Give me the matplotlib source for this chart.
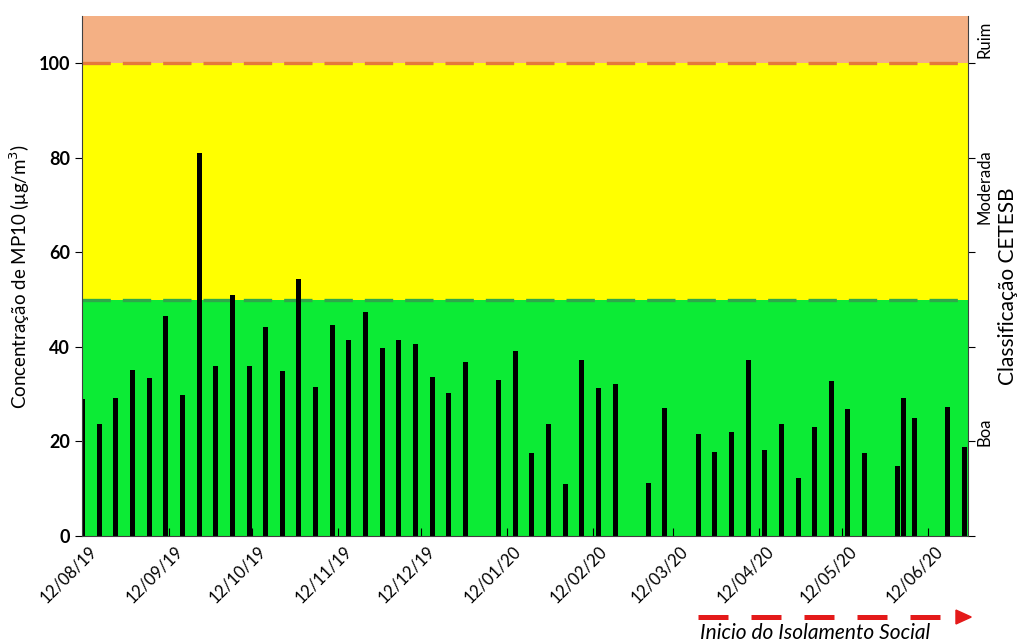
import numpy as np
import matplotlib
matplotlib.use("Agg")
import matplotlib.pyplot as plt
import matplotlib.dates as mdates
import matplotlib.transforms as mtransforms
from matplotlib.lines import Line2D
from matplotlib.patches import Polygon

plt.rcParams['font.family'] = ['Lato', 'DejaVu Sans']

# Sampling dates (every 6 days, some missing) and MP10 concentrations
dates = np.array([
    '2019-08-12', '2019-08-18', '2019-08-24', '2019-08-30', '2019-09-05',
    '2019-09-11', '2019-09-17', '2019-09-23', '2019-09-29', '2019-10-05',
    '2019-10-11', '2019-10-17', '2019-10-23', '2019-10-29', '2019-11-04',
    '2019-11-10', '2019-11-16', '2019-11-22', '2019-11-28', '2019-12-04',
    '2019-12-10', '2019-12-16', '2019-12-22', '2019-12-28', '2020-01-09',
    '2020-01-15', '2020-01-21', '2020-01-27', '2020-02-02', '2020-02-08',
    '2020-02-14', '2020-02-20', '2020-03-03', '2020-03-09', '2020-03-21',
    '2020-03-27', '2020-04-02', '2020-04-08', '2020-04-14', '2020-04-20',
    '2020-04-26', '2020-05-02', '2020-05-08', '2020-05-14', '2020-05-20',
    '2020-06-01', '2020-06-03', '2020-06-07', '2020-06-19', '2020-06-25',
], dtype='datetime64[D]')
mp10 = [
    29.0, 23.7, 29.1, 35.1, 33.5,
    46.5, 29.8, 81.0, 36.0, 50.9,
    35.9, 44.3, 35.0, 54.3, 31.5,
    44.6, 41.4, 47.4, 39.7, 41.4,
    40.7, 33.7, 30.3, 36.9, 33.0,
    39.1, 17.5, 23.8, 11.0, 37.2,
    31.4, 32.2, 11.3, 27.0, 21.5,
    17.7, 22.0, 37.2, 18.2, 23.7,
    12.3, 23.0, 32.8, 26.9, 17.5,
    14.9, 29.3, 24.9, 27.3, 18.9,
]

tick_dates = np.array([
    '2019-08-12', '2019-09-12', '2019-10-12', '2019-11-12', '2019-12-12',
    '2020-01-12', '2020-02-12', '2020-03-12', '2020-04-12', '2020-05-12',
    '2020-06-12',
], dtype='datetime64[D]')

# CETESB classes
class_limits = [0, 50, 100, 110]
class_colors = ['#0CEB35', '#FFFF00', '#F4B084']
class_names = ['Boa', 'Moderada', 'Ruim']

fig = plt.figure(figsize=(10.17, 6.43), dpi=100)
ax = fig.add_axes([0.0806, 0.1664, 0.8712, 0.8086])

for lo, hi, c in zip(class_limits[:-1], class_limits[1:], class_colors):
    ax.axhspan(lo, hi, color=c, zorder=0, lw=0)

ax.axhline(50, color='#2EA84A', lw=2.4, ls=(0, (8.5, 3.6)), zorder=1)
ax.axhline(100, color='#E57A3A', lw=2.4, ls=(0, (8.5, 3.6)), zorder=1)

ax.bar(dates.astype('datetime64[ns]'), mp10, width=1.8, color='black', zorder=2)

ax.set_ylim(0, 110)
ax.set_xlim(np.datetime64('2019-08-11T18:00'), np.datetime64('2020-06-26T07:00'))
ax.set_yticks([0, 20, 40, 60, 80, 100])
ax.tick_params(axis='y', direction='out', labelsize=13, length=5, right=True, width=0.8)
ax.set_xticks(tick_dates.astype('datetime64[ns]'))
ax.xaxis.set_major_formatter(mdates.DateFormatter('%d/%m/%y'))
ax.tick_params(axis='x', direction='in', length=6, labelsize=12, width=0.8, pad=5)
for lbl in ax.get_yticklabels():
    lbl.set_fontweight('bold')
shift = mtransforms.ScaledTranslation(6 / 100, 0, fig.dpi_scale_trans)
for lbl in ax.get_xticklabels():
    lbl.set_rotation(45)
    lbl.set_ha('right')
    lbl.set_rotation_mode('anchor')
    lbl.set_transform(lbl.get_transform() + shift)

for s in ax.spines.values():
    s.set_color('#404040')
    s.set_linewidth(0.8)
ax.spines['top'].set_visible(False)

ax.set_ylabel('Concentração de MP10 (μg/m$^3$)', fontsize=13.5, labelpad=5)

# class labels at right side
for name, y in zip(class_names, [22, 74, 105]):
    ax.text(1.010, y, name, transform=ax.get_yaxis_transform(), rotation=90,
            ha='left', va='center', fontsize=12)
fig.text(0.991, 0.555, 'Classificação CETESB', rotation=90, ha='center',
         va='center', fontsize=15)

# arrow for start of social isolation
fig.add_artist(Line2D([0.686, 0.942], [0.0404, 0.0404], color='#E41A1A', lw=3.6,
                      ls=(0, (6, 4.6)), transform=fig.transFigure))
fig.add_artist(Polygon([[0.940, 0.0512], [0.940, 0.0296], [0.955, 0.0404]],
                       closed=True, color='#E41A1A', transform=fig.transFigure))
fig.text(0.688, 0.0155, 'Inicio do Isolamento Social', style='italic',
         fontsize=15, ha='left', va='center')

fig.savefig('out.png', dpi=100)
